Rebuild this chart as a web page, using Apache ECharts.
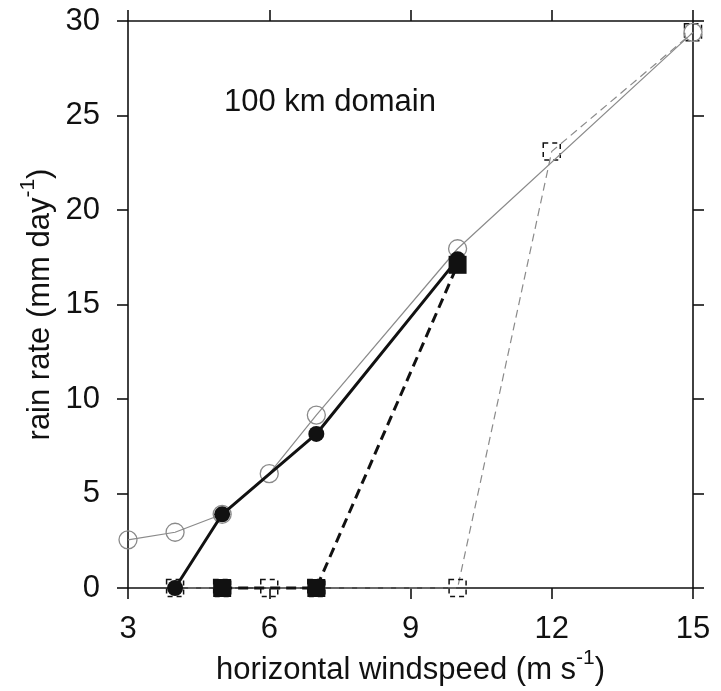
<!DOCTYPE html>
<html>
<head>
<meta charset="utf-8">
<script src="https://cdn.jsdelivr.net/npm/echarts@6/dist/echarts.min.js"></script>
<style>
  html, body { margin: 0; padding: 0; background: #fff; }
  #chart { width: 721px; height: 691px; }
</style>
</head>
<body>
<div id="chart"></div>
<script>
// rain rate vs horizontal windspeed, 100 km domain
const xTicks = [3, 6, 9, 12, 15];
const yTicks = [0, 5, 10, 15, 20, 25, 30];

// open circles, thin grey solid line
const openCircleX = [3, 4, 5, 6, 7, 10, 15];
const openCircleY = [2.55, 2.95, 3.9, 6.05, 9.15, 17.95, 29.4];

// filled circles, thick black solid line
const filledCircleX = [4, 5, 7, 10];
const filledCircleY = [0, 3.9, 8.15, 17.4];

// filled squares, thick black dashed line
const filledSquareX = [5, 7, 10];
const filledSquareY = [0, 0, 17.1];

// open dashed squares, thin grey dashed line
const openSquareX = [4, 5, 6, 7, 10, 12, 15];
const openSquareY = [0, 0, 0, 0, 0, 23.1, 29.4];

const FONT = '"Liberation Sans", Arial, Helvetica, sans-serif';
const INK = '#111';
const FS = 31;

function pairs(xs, ys) { return xs.map((x, i) => [x, ys[i]]); }

// raised small "-1" for the unit exponents
const richName = {
  base: { fontSize: FS, lineHeight: 31, verticalAlign: 'bottom', color: INK, fontFamily: FONT },
  sup: { fontSize: 21, lineHeight: 21, verticalAlign: 'bottom', padding: [0, 0, 17, 0], color: INK, fontFamily: FONT },
};

const axisCommon = {
  axisLine: { show: true, onZero: false, lineStyle: { color: INK, width: 1.6 } },
  axisTick: { show: true, inside: false, length: 11, lineStyle: { color: INK, width: 1.6 } },
  splitLine: { show: false },
};

const chart = echarts.init(document.getElementById('chart'), null, { renderer: 'canvas' });

chart.setOption({
  animation: false,
  backgroundColor: '#fff',
  textStyle: { fontFamily: FONT },
  grid: { left: 128, right: 28, top: 21, bottom: 103, containLabel: false },
  title: {
    text: '100 km domain', left: 224, top: 87, padding: 0,
    textStyle: { fontFamily: FONT, fontSize: FS, fontWeight: 'normal', color: INK },
  },
  xAxis: [
    Object.assign({
      type: 'value', position: 'bottom', min: xTicks[0], max: xTicks[xTicks.length - 1], interval: 3,
      axisLabel: { color: INK, fontSize: FS, margin: 26, fontFamily: FONT },
      name: '{base|horizontal windspeed (m s}{sup|-1}{base|)}', nameLocation: 'middle', nameGap: 67,
      nameMoveOverlap: false,
      nameTextStyle: { color: INK, fontSize: FS, fontFamily: FONT, rich: richName },
    }, axisCommon),
    Object.assign({
      type: 'value', position: 'top', min: xTicks[0], max: xTicks[xTicks.length - 1], interval: 3,
      axisLabel: { show: false },
    }, axisCommon),
  ],
  yAxis: [
    Object.assign({
      type: 'value', position: 'left', min: yTicks[0], max: yTicks[yTicks.length - 1], interval: 5,
      axisLabel: { color: INK, fontSize: FS, margin: 28, fontFamily: FONT },
      name: '{base|rain rate (mm day}{sup|-1}{base|)}', nameLocation: 'middle', nameGap: 72, nameRotate: 90,
      nameMoveOverlap: false,
      nameTextStyle: { color: INK, fontSize: FS, fontFamily: FONT, rich: richName },
    }, axisCommon),
    Object.assign({
      type: 'value', position: 'right', min: yTicks[0], max: yTicks[yTicks.length - 1], interval: 5,
      axisLabel: { show: false },
    }, axisCommon),
  ],
  series: [
    {
      name: 'open squares', type: 'line', z: 2, clip: false,
      data: pairs(openSquareX, openSquareY),
      symbol: 'rect', symbolSize: 17,
      lineStyle: { color: '#8a8a8a', width: 1.2, type: [8, 5] },
      itemStyle: { color: 'rgba(255,255,255,0)', borderColor: INK, borderWidth: 1.5, borderType: [5, 4] },
    },
    {
      name: 'open circles', type: 'line', z: 3, clip: false,
      data: pairs(openCircleX, openCircleY),
      symbol: 'circle', symbolSize: 18,
      lineStyle: { color: '#8a8a8a', width: 1.2 },
      itemStyle: { color: 'rgba(255,255,255,0)', borderColor: '#8a8a8a', borderWidth: 1.3 },
    },
    {
      name: 'filled circles', type: 'line', z: 4, clip: false,
      data: pairs(filledCircleX, filledCircleY),
      symbol: 'circle', symbolSize: 16,
      lineStyle: { color: INK, width: 3 },
      itemStyle: { color: INK, borderColor: INK, borderWidth: 0 },
    },
    {
      name: 'filled squares', type: 'line', z: 5, clip: false,
      data: pairs(filledSquareX, filledSquareY),
      symbol: 'rect', symbolSize: 18,
      lineStyle: { color: INK, width: 3, type: [10, 6] },
      itemStyle: { color: INK, borderColor: INK, borderWidth: 0 },
    },
  ],
});
</script>
</body>
</html>
